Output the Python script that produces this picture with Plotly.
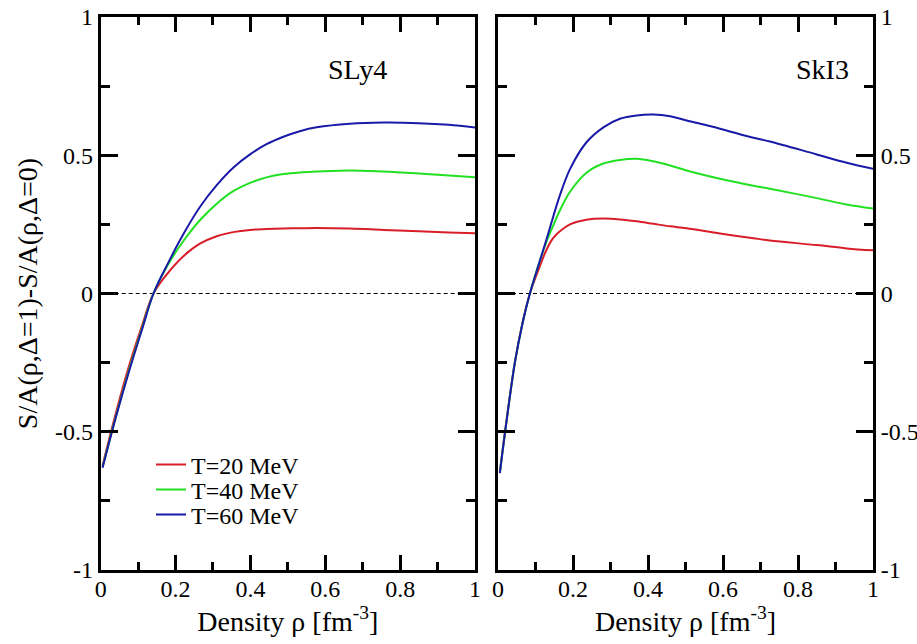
import plotly.graph_objects as go

# ---------------- data ----------------
# Left panel: SLy4
x_sly4 = [0.005, 0.04, 0.075, 0.11, 0.141, 0.18, 0.221, 0.265, 0.31, 0.354, 0.399, 0.443,
          0.488, 0.532, 0.577, 0.666, 0.755, 0.85, 0.93, 1.0]
sly4_t20 = [-0.622, -0.435, -0.265, -0.118, 0.0, 0.075, 0.135, 0.18, 0.207, 0.222, 0.230, 0.233,
            0.235, 0.236, 0.237, 0.235, 0.230, 0.225, 0.221, 0.218]
sly4_t40 = [-0.628, -0.448, -0.28, -0.128, 0.0, 0.105, 0.19, 0.265, 0.325, 0.37, 0.40, 0.42,
            0.432, 0.438, 0.441, 0.445, 0.441, 0.434, 0.427, 0.420]
sly4_t60 = [-0.630, -0.45, -0.285, -0.132, 0.0, 0.11, 0.215, 0.313, 0.392, 0.455, 0.503, 0.540,
            0.567, 0.587, 0.601, 0.614, 0.618, 0.616, 0.610, 0.600]

# Right panel: SkI3
x_ski3 = [0.005, 0.02, 0.045, 0.065, 0.085, 0.112, 0.13, 0.147, 0.165, 0.192, 0.236, 0.281,
          0.325, 0.37, 0.414, 0.459, 0.503, 0.592, 0.681, 0.725, 0.85, 0.93, 1.0]
ski3_t20 = [-0.645, -0.487, -0.248, -0.108, 0.0, 0.10, 0.16, 0.20, 0.225, 0.25, 0.267, 0.271,
            0.268, 0.261, 0.252, 0.243, 0.236, 0.217, 0.200, 0.192, 0.175, 0.163, 0.156]
ski3_t40 = [-0.648, -0.49, -0.25, -0.11, 0.0, 0.12, 0.19, 0.245, 0.30, 0.368, 0.437, 0.47,
            0.483, 0.487, 0.478, 0.463, 0.445, 0.415, 0.390, 0.379, 0.345, 0.322, 0.307]
ski3_t60 = [-0.650, -0.49, -0.25, -0.11, 0.0, 0.12, 0.199, 0.277, 0.355, 0.45, 0.547, 0.601,
            0.632, 0.644, 0.647, 0.641, 0.626, 0.596, 0.563, 0.550, 0.503, 0.473, 0.451]

series_names = ["T=20 MeV", "T=40 MeV", "T=60 MeV"]
series_colors = ["#d81e28", "#22e022", "#1a1aa8"]
panel_labels = ["SLy4", "SkI3"]

x_tickvals = [0, 0.2, 0.4, 0.6, 0.8, 1.0]
x_ticktext = ["0", "0.2", "0.4", "0.6", "0.8", "1"]
x_minor = [0.1, 0.3, 0.5, 0.7, 0.9]
y_tickvals = [-1, -0.5, 0, 0.5, 1]
y_ticktext = ["-1", "-0.5", "0", "0.5", "1"]
y_minor = [-0.75, -0.25, 0.25, 0.75]

FONT = "Liberation Serif, Times New Roman, DejaVu Serif, serif"
W, H = 917, 644

fig = go.Figure()

legend_ids = ["legend", "legend2", "legend3"]
left_data = [sly4_t20, sly4_t40, sly4_t60]
right_data = [ski3_t20, ski3_t40, ski3_t60]
for name, col, yl, lg in zip(series_names, series_colors, left_data, legend_ids):
    fig.add_trace(go.Scatter(x=x_sly4, y=yl, mode="lines", name=name,
                             line=dict(color=col, width=2, shape="spline", smoothing=1.0),
                             legendgroup=name, showlegend=True, legend=lg,
                             xaxis="x", yaxis="y"))
for name, col, yr in zip(series_names, series_colors, right_data):
    fig.add_trace(go.Scatter(x=x_ski3, y=yr, mode="lines", name=name,
                             line=dict(color=col, width=2, shape="spline", smoothing=1.0),
                             legendgroup=name, showlegend=False, xaxis="x2", yaxis="y2"))

# domains in paper coordinates (pixel measurements from reference)
xd1 = [100.7 / W, 475 / W]
xd2 = [498 / W, 873 / W]
yd = [1 - 570 / H, 1 - 17 / H]

common = dict(showline=True, linewidth=3, linecolor="black", mirror="allticks",
              ticks="inside", tickwidth=3, tickcolor="black", showgrid=False,
              zeroline=False, automargin=False,
              tickfont=dict(family=FONT, size=24, color="black"))

xcommon = dict(common, range=[0, 1], tickmode="array", tickvals=x_tickvals, ticktext=x_ticktext,
               ticklen=15, ticklabelstandoff=-5,
               minor=dict(tickmode="array", tickvals=x_minor, ticks="inside", ticklen=8,
                          tickwidth=3, tickcolor="black", showgrid=False),
               title=dict(text="Density ρ [fm<sup>-3</sup>]",
                          font=dict(family=FONT, size=28, color="black"), standoff=6))
ycommon = dict(common, range=[-1, 1], tickmode="array", tickvals=y_tickvals, ticktext=y_ticktext,
               ticklen=17,
               minor=dict(tickmode="array", tickvals=y_minor, ticks="inside", ticklen=9,
                          tickwidth=3, tickcolor="black", showgrid=False))

legend_rows_px = [465, 490, 515]
legend_style = dict(x=151 / W, xanchor="left", yanchor="middle",
                    bgcolor="rgba(0,0,0,0)", font=dict(family=FONT, size=24, color="black"),
                    itemwidth=30)

fig.update_layout(
    width=W, height=H,
    margin=dict(l=0, r=0, t=0, b=0),
    paper_bgcolor="white", plot_bgcolor="white",
    xaxis=dict(xcommon, domain=xd1, anchor="y"),
    yaxis=dict(ycommon, domain=yd, anchor="x",
               title=dict(text="S/A(ρ,Δ=1)-S/A(ρ,Δ=0)",
                          font=dict(family=FONT, size=28, color="black"), standoff=10)),
    xaxis2=dict(xcommon, domain=xd2, anchor="y2"),
    yaxis2=dict(ycommon, domain=yd, anchor="x2", side="right"),
    legend=dict(legend_style, y=1 - legend_rows_px[0] / H),
    legend2=dict(legend_style, y=1 - legend_rows_px[1] / H),
    legend3=dict(legend_style, y=1 - legend_rows_px[2] / H),
    showlegend=True,
)

# dashed zero reference lines
for xr, yr in (("x", "y"), ("x2", "y2")):
    fig.add_shape(type="line", xref=xr, yref=yr, x0=0, x1=1, y0=0, y1=0,
                  line=dict(color="black", width=1, dash="4px,3px"), layer="below")

# panel labels
fig.add_annotation(text=panel_labels[0], xref="x", yref="y", x=0.77, y=0.81,
                   xanchor="right", yanchor="middle", showarrow=False,
                   font=dict(family=FONT, size=28, color="black"))
fig.add_annotation(text=panel_labels[1], xref="x2", yref="y2", x=0.94, y=0.81,
                   xanchor="right", yanchor="middle", showarrow=False,
                   font=dict(family=FONT, size=28, color="black"))

fig.write_html("out.html", config={"displayModeBar": False},
               post_script="document.body.style.margin='0px';")
